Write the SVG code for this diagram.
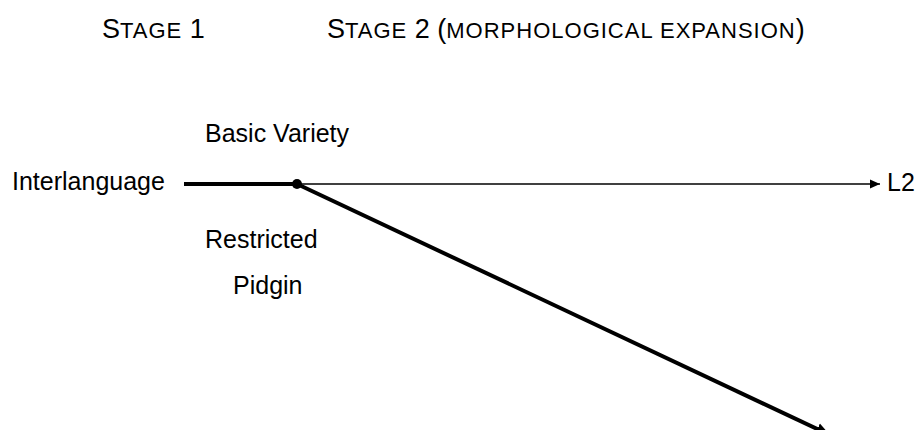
<svg xmlns="http://www.w3.org/2000/svg" width="922" height="430" viewBox="0 0 922 430">
<style>
text{font-family:"Liberation Sans",Arial,sans-serif;fill:#000}
.lbl{font-size:25px}
.hd{font-size:27px}
.sc{font-size:22px;letter-spacing:1px}
.thick{stroke:#000;stroke-width:4;fill:none}
.thin{stroke:#000;stroke-width:1.3;fill:none}
</style>
<defs>
<marker id="ahThin" markerUnits="userSpaceOnUse" markerWidth="12" markerHeight="10" refX="10" refY="5" orient="auto"><path d="M0,0.5 L10,5 L0,9.5 Z" fill="#000"/></marker>
<marker id="ahThick" markerUnits="userSpaceOnUse" markerWidth="16" markerHeight="14" refX="14" refY="7" orient="auto"><path d="M0,1 L14,7 L0,13 Z" fill="#000"/></marker>
</defs>
<g id="headings">
<text class="hd" x="102" y="38">S<tspan class="sc">TAGE</tspan> 1</text>
<text class="hd" x="327" y="38">S<tspan class="sc">TAGE</tspan> 2 (<tspan class="sc">MORPHOLOGICAL EXPANSION</tspan>)</text>
</g>
<g id="connectors">
<line class="thick" x1="184" y1="184" x2="297" y2="184"/>
<line class="thin" x1="297" y1="184" x2="880" y2="184" marker-end="url(#ahThin)"/>
<line class="thick" x1="297" y1="184" x2="830" y2="435" marker-end="url(#ahThick)"/>
</g>
<g id="node-interlanguage"><text class="lbl" x="12" y="190">Interlanguage</text></g>
<g id="node-branch"><circle cx="297" cy="184" r="5" fill="#000"/></g>
<g id="node-basic-variety"><text class="lbl" x="205" y="142">Basic Variety</text></g>
<g id="node-restricted-pidgin"><text class="lbl" x="205" y="248">Restricted</text><text class="lbl" x="233" y="294">Pidgin</text></g>
<g id="node-l2"><text class="lbl" x="887" y="191">L2</text></g>
</svg>
